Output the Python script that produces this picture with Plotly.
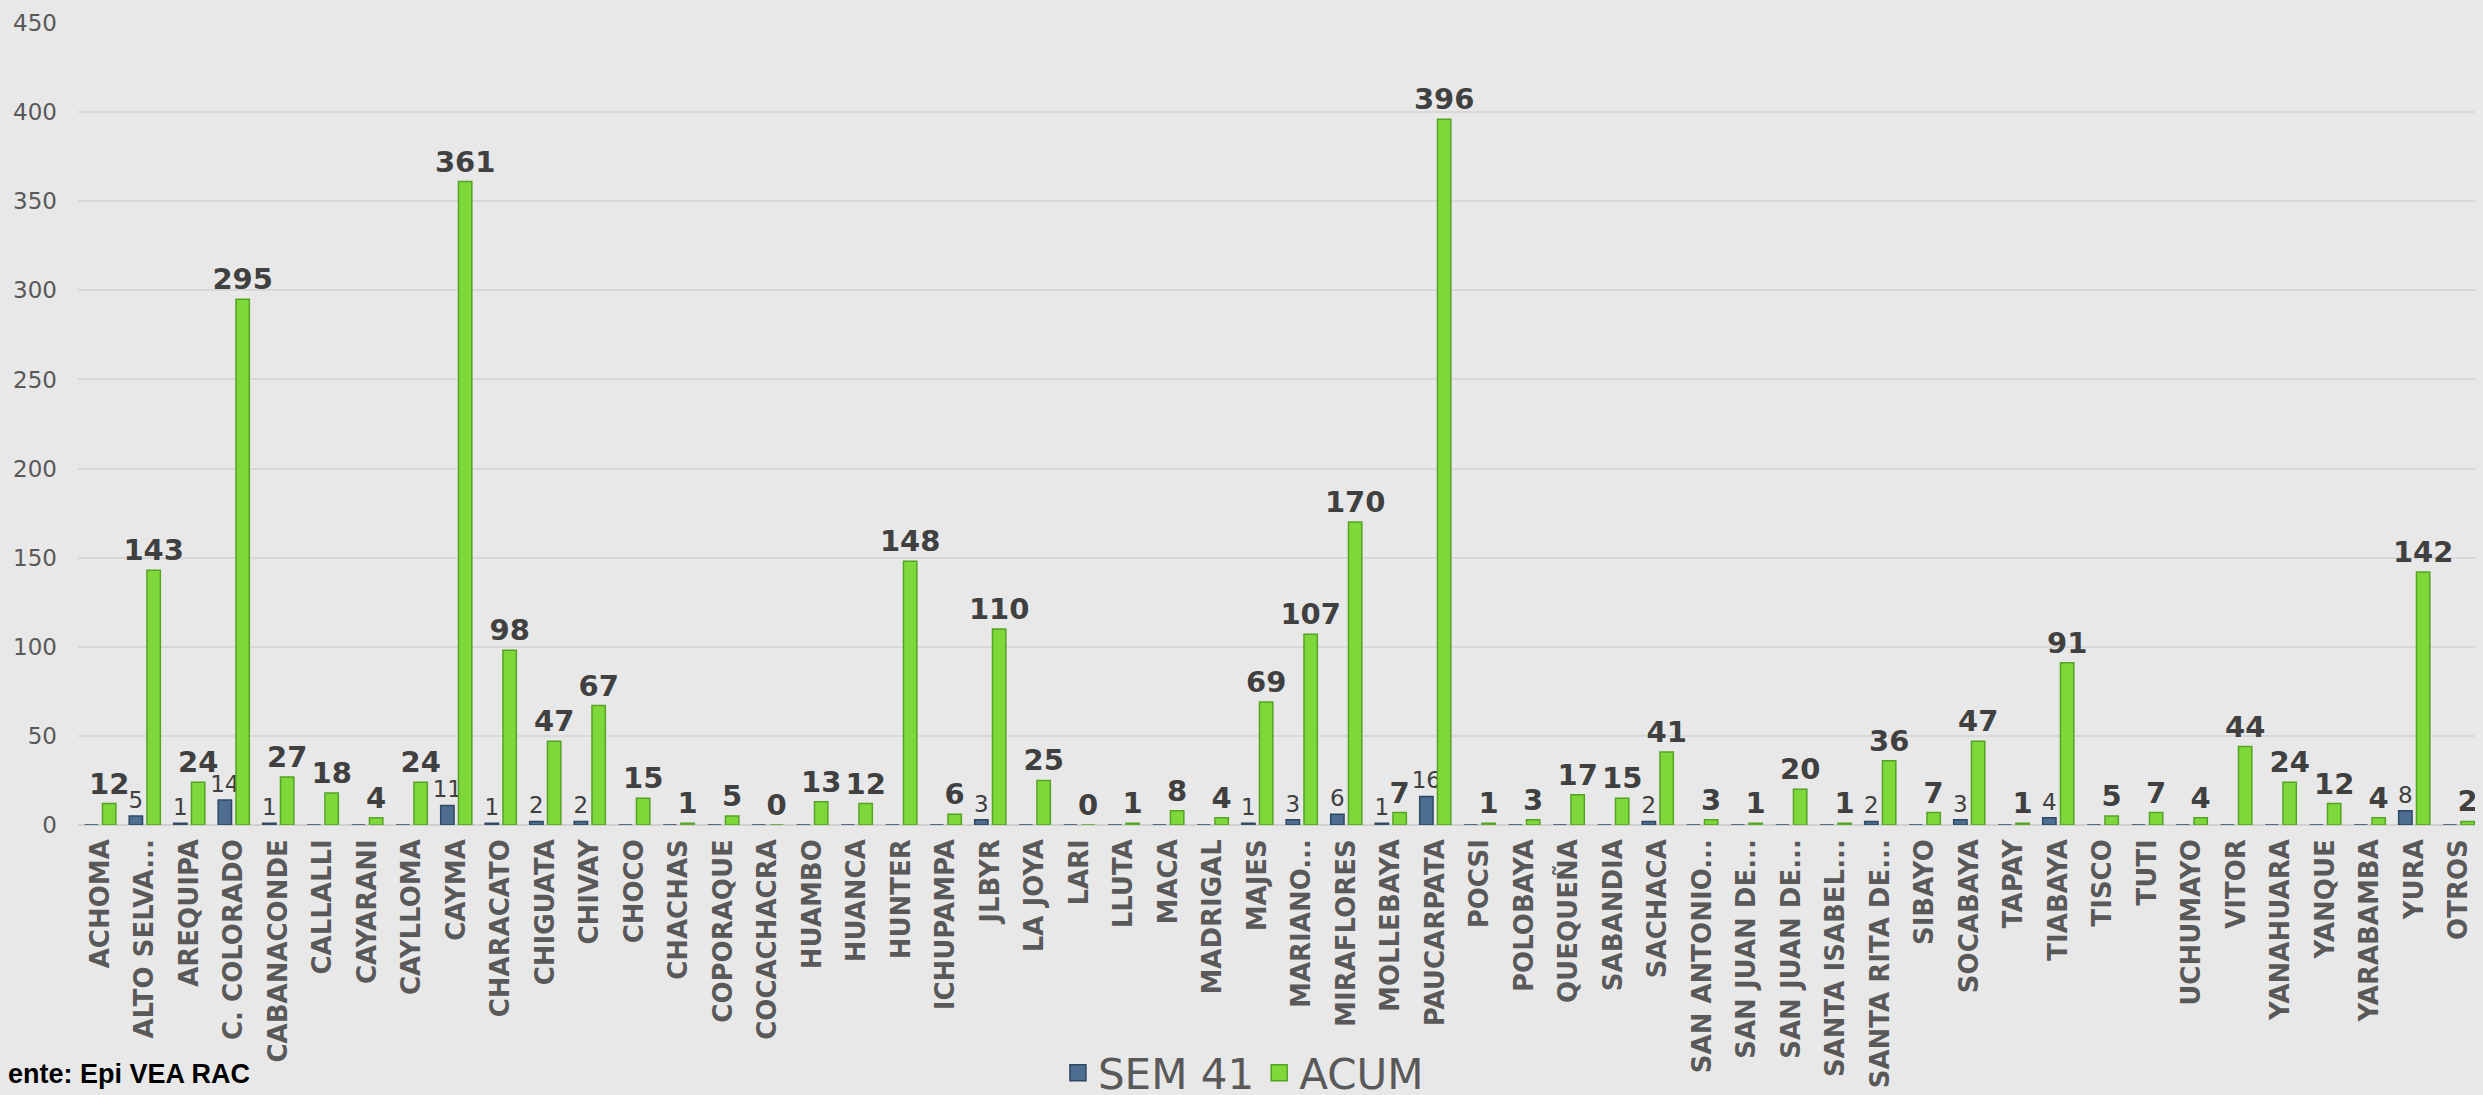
import plotly.graph_objects as go

categories = [
    "ACHOMA", "ALTO SELVA...", "AREQUIPA", "C. COLORADO", "CABANACONDE", "CALLALLI",
    "CAYARANI", "CAYLLOMA", "CAYMA", "CHARACATO", "CHIGUATA", "CHIVAY", "CHOCO",
    "CHACHAS", "COPORAQUE", "COCACHACRA", "HUAMBO", "HUANCA", "HUNTER", "ICHUPAMPA",
    "JLBYR", "LA JOYA", "LARI", "LLUTA", "MACA", "MADRIGAL", "MAJES", "MARIANO...",
    "MIRAFLORES", "MOLLEBAYA", "PAUCARPATA", "POCSI", "POLOBAYA", "QUEQUEÑA",
    "SABANDIA", "SACHACA", "SAN ANTONIO...", "SAN JUAN DE...", "SAN JUAN DE...",
    "SANTA ISABEL...", "SANTA RITA DE...", "SIBAYO", "SOCABAYA", "TAPAY", "TIABAYA",
    "TISCO", "TUTI", "UCHUMAYO", "VITOR", "YANAHUARA", "YANQUE", "YARABAMBA", "YURA",
    "OTROS",
]
sem41 = [
    0, 5, 1, 14, 1, 0,
    0, 0, 11, 1, 2, 2, 0,
    0, 0, 0, 0, 0, 0, 0,
    3, 0, 0, 0, 0, 0, 1, 3,
    6, 1, 16, 0, 0, 0,
    0, 2, 0, 0, 0,
    0, 2, 0, 3, 0, 4,
    0, 0, 0, 0, 0, 0, 0, 8,
    0,
]
acum = [
    12, 143, 24, 295, 27, 18,
    4, 24, 361, 98, 47, 67, 15,
    1, 5, 0, 13, 12, 148, 6,
    110, 25, 0, 1, 8, 4, 69, 107,
    170, 7, 396, 1, 3, 17,
    15, 41, 3, 1, 20,
    1, 36, 7, 47, 1, 91,
    5, 7, 4, 44, 24, 12, 4, 142,
    2,
]
y_ticks = [0, 50, 100, 150, 200, 250, 300, 350, 400, 450]

positions = list(range(len(categories)))

SEM_COLOR, SEM_EDGE = "#4D6E91", "#2E4763"
ACUM_COLOR, ACUM_EDGE = "#7FD83A", "#55A325"
BG = "#E8E8E8"

# page body has an 8px default margin; compensate so the plot lands where the reference has it
W, H = 2483, 1095
ml, mr, mt, mb = 70, 10, 15, 278
pw = W - ml - mr
ph = H - mt - mb

fig = go.Figure()
fig.add_trace(go.Bar(
    x=positions, y=sem41, name="SEM 41", showlegend=False, legendgroup="sem",
    marker=dict(color=SEM_COLOR, line=dict(color=SEM_EDGE, width=1.5)),
    text=[str(v) if v > 0 else "" for v in sem41],
    textposition="outside",
    textfont=dict(family="DejaVu Sans", size=23, color="#404040"),
    constraintext="none", cliponaxis=False,
))
fig.add_trace(go.Bar(
    x=positions, y=acum, name="ACUM", showlegend=False, legendgroup="acum",
    marker=dict(color=ACUM_COLOR, line=dict(color=ACUM_EDGE, width=1.5)),
    text=[str(v) for v in acum],
    textposition="outside",
    textfont=dict(family="DejaVu Sans", size=29, color="#404040", weight="bold"),
    constraintext="none", cliponaxis=False,
))
# legend entries with square swatches
for name, col, edge, grp in [("SEM 41", SEM_COLOR, SEM_EDGE, "sem"), ("ACUM", ACUM_COLOR, ACUM_EDGE, "acum")]:
    fig.add_trace(go.Scatter(
        x=[None], y=[None], mode="markers", name=name, legendgroup=grp,
        marker=dict(symbol="square", size=24, color=col, line=dict(color=edge, width=1.5)),
        hoverinfo="skip",
    ))

legend_y_px = 1065  # centre of legend row, in figure pixels
fig.update_layout(
    width=W, height=H,
    margin=dict(l=ml, r=mr, t=mt, b=mb, autoexpand=False),
    paper_bgcolor=BG, plot_bgcolor=BG,
    barmode="group", bargap=0.2, bargroupgap=0.25,
    showlegend=True,
    legend=dict(
        orientation="h", x=0.485, xanchor="center",
        y=-(legend_y_px - (mt + ph)) / ph, yanchor="middle",
        font=dict(family="DejaVu Sans", size=42, color="#595959"),
        itemsizing="trace", bgcolor="rgba(0,0,0,0)", traceorder="normal",
        itemwidth=30,
    ),
    font=dict(family="DejaVu Sans"),
)
fig.update_xaxes(
    range=[-0.5, len(categories) - 0.5],
    tickmode="array", tickvals=positions, ticktext=categories,
    tickangle=-90, ticks="", ticklabelstandoff=8,
    tickfont=dict(family="DejaVu Sans", size=26, color="#595959", weight="bold"),
    showgrid=False, zeroline=False, showline=False, automargin=False,
)
fig.update_yaxes(
    range=[0, 450], tickmode="array", tickvals=y_ticks,
    ticks="", ticklabelstandoff=20,
    tickfont=dict(family="DejaVu Sans", size=23, color="#595959"),
    showgrid=True, gridcolor="#D8D8D8", gridwidth=2,
    zeroline=True, zerolinecolor="#D0D0D0", zerolinewidth=2,
    showline=False, automargin=False,
)

fig.add_annotation(
    text="<b>Fuente: Epi VEA RAC</b>", xref="paper", yref="paper",
    x=(244 - ml) / pw, xanchor="right",
    y=-(1066 - (mt + ph)) / ph, yanchor="middle",
    showarrow=False,
    font=dict(family="Liberation Sans", size=27, color="#000000"),
)

fig.write_html(
    "out.html",
    post_script="document.body.style.background='" + BG + "';",
)
